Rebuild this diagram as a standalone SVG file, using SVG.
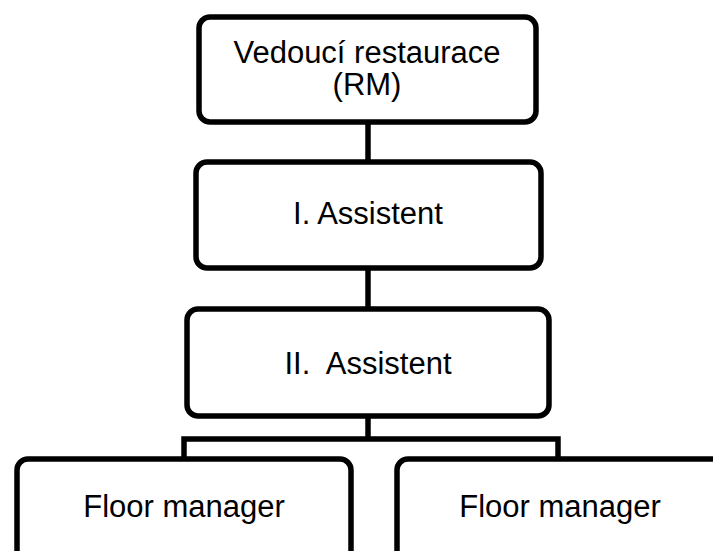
<svg xmlns="http://www.w3.org/2000/svg" width="713" height="551" viewBox="0 0 713 551">
<style>
.box{fill:#fff;stroke:#000;stroke-width:5.5}
.lbl{font-family:"Liberation Sans",Arial,sans-serif;font-size:31px;fill:#000;text-anchor:middle}
.conn{fill:none;stroke:#000;stroke-width:5.5}
</style>
<rect width="713" height="551" fill="#fff"/>
<g id="connectors">
<line class="conn" x1="368" y1="122" x2="368" y2="162"/>
<line class="conn" x1="368" y1="268" x2="368" y2="309"/>
<polyline class="conn" points="368,416 368,439"/>
<polyline class="conn" points="184,459 184,439 558,439 558,459"/>
</g>
<g id="n1">
<rect class="box" x="199" y="17" width="337" height="105" rx="11"/>
<text class="lbl" x="367" y="63">Vedoucí restaurace</text>
<text class="lbl" x="367" y="95">(RM)</text>
</g>
<g id="n2">
<rect class="box" x="196" y="162" width="345" height="106" rx="11"/>
<text class="lbl" x="368" y="224">I. Assistent</text>
</g>
<g id="n3">
<rect class="box" x="187" y="309" width="362" height="107" rx="11"/>
<text class="lbl" x="368" y="374" xml:space="preserve">II.  Assistent</text>
</g>
<g id="n4">
<rect class="box" x="17" y="459" width="334" height="105" rx="11"/>
<text class="lbl" x="184" y="517">Floor manager</text>
</g>
<g id="n5">
<rect class="box" x="397" y="459" width="326" height="105" rx="11"/>
<text class="lbl" x="560" y="517">Floor manager</text>
</g>
</svg>
